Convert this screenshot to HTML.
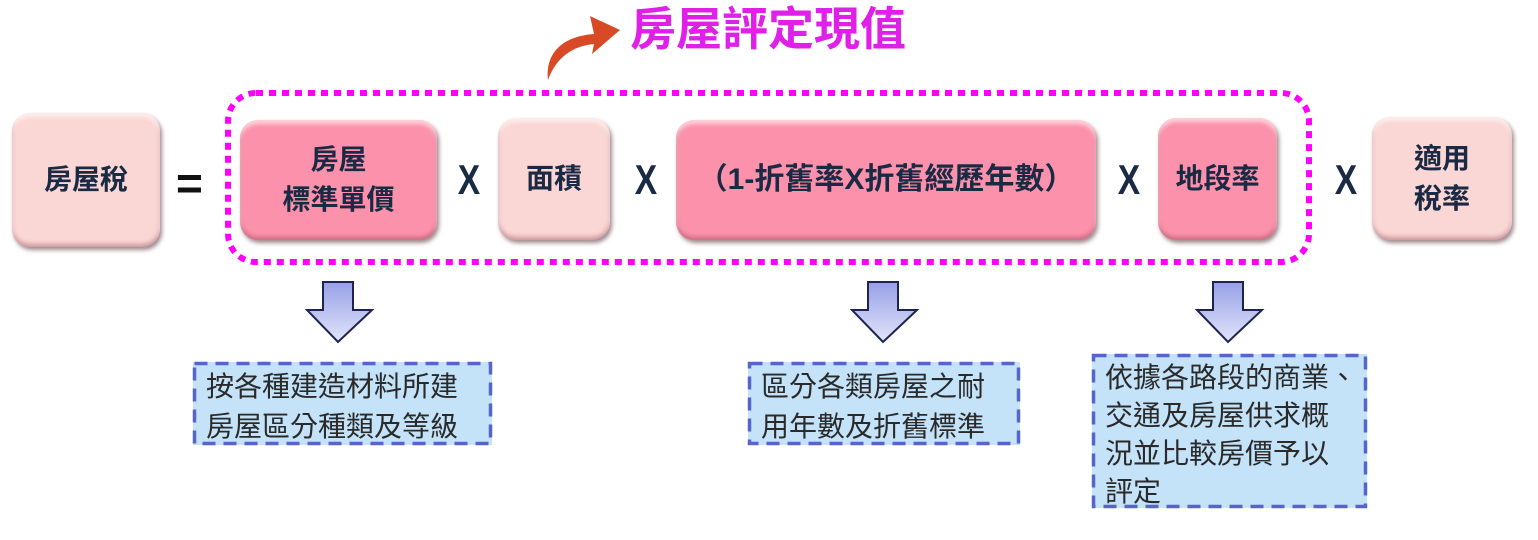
<!DOCTYPE html>
<html><head><meta charset="utf-8"><style>
body{margin:0;width:1538px;height:540px;background:#fff;position:relative;overflow:hidden;font-family:"Liberation Sans","Noto Sans CJK TC",sans-serif}
.b{position:absolute;border-radius:18px;display:flex;align-items:center;justify-content:center;text-align:center;color:#1b2a44;font-size:28px;line-height:40px;font-weight:bold;box-shadow:2px 3px 4px rgba(80,40,50,.55),inset 0 4px 4px rgba(255,255,255,.6),inset 0 -3px 4px rgba(120,40,60,.35)}
.l{background:#fad6d4}
.d{background:#fb91aa}
.x{position:absolute;font-size:42px;font-weight:bold;color:#1b2a44;font-family:"Liberation Sans",sans-serif;transform:scaleX(.8)}
.t{position:absolute;background:#c4e2f8;color:#2a2a2a;font-size:28px;line-height:40px;padding:5px 0 0 13px;box-sizing:border-box}
</style></head><body>
<div class="b l" style="left:12px;top:113px;width:148px;height:134px">房屋稅</div>
<div style="position:absolute;left:176px;top:156px;font-size:46px;font-weight:bold;color:#111">=</div>
<div class="b d" style="left:240px;top:120px;width:197px;height:120px">房屋<br>標準單價</div>
<div class="x" style="left:455px;top:156px">X</div>
<div class="b l" style="left:498px;top:118px;width:112px;height:122px">面積</div>
<div class="x" style="left:632px;top:156px">X</div>
<div class="b d" style="left:676px;top:120px;width:420px;height:120px;font-size:30px">（1-折舊率X折舊經歷年數）</div>
<div class="x" style="left:1115px;top:156px">X</div>
<div class="b d" style="left:1158px;top:118px;width:119px;height:122px">地段率</div>
<div class="x" style="left:1332px;top:156px">X</div>
<div class="b l" style="left:1372px;top:117px;width:140px;height:123px">適用<br>稅率</div>
<div style="position:absolute;left:630px;top:0px;font-size:46px;font-weight:bold;color:#e020e8;line-height:58px">房屋評定現值</div>
<div class="t" style="left:193px;top:362px;width:299px;height:83px">按各種建造材料所建<br>房屋區分種類及等級</div>
<div class="t" style="left:748px;top:362px;width:272px;height:83px">區分各類房屋之耐<br>用年數及折舊標準</div>
<div class="t" style="left:1092px;top:354px;width:275px;height:154px;line-height:38px">依據各路段的商業、<br>交通及房屋供求概<br>況並比較房價予以<br>評定</div>
<svg width="1538" height="540" style="position:absolute;left:0;top:0">
<defs><linearGradient id="g" x1="0" y1="0" x2="0" y2="1"><stop offset="0" stop-color="#97a0e6"/><stop offset="1" stop-color="#e2e5fb"/></linearGradient></defs>
<rect x="228" y="93" width="1081" height="169" rx="28" fill="none" stroke="#f0f" stroke-width="6" stroke-dasharray="7 6"/>
<g fill="none" stroke="#5565c9" stroke-width="3.5" stroke-dasharray="13 8">
<rect x="194.5" y="363.5" width="296" height="80"/>
<rect x="749.5" y="363.5" width="269" height="80"/>
<rect x="1093.5" y="355.5" width="272" height="151"/>
</g>
<path d="M548 80 C545 50 566 36 594 34 L590 16 L620 30 L592 54 L594 44 C572 46 556 58 548 80Z" fill="#d84a26"/>
<g fill="url(#g)" stroke="#1e2450" stroke-width="2">
<path d="M323 282 H353 V310 H372 L338 342 L307 310 H323Z"/>
<path d="M868 282 H898 V310 H917 L883 342 L852 310 H868Z"/>
<path d="M1213 282 H1243 V310 H1262 L1228 342 L1197 310 H1213Z"/>
</g></svg>
</body></html>
